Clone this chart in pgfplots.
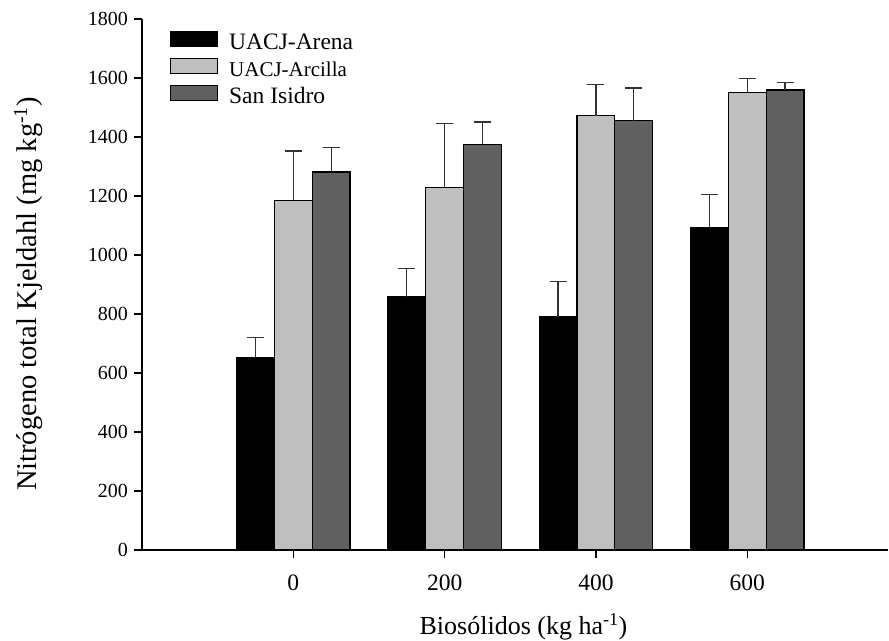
\documentclass[border=0pt]{standalone}
\usepackage{fontspec}
\setmainfont{Liberation Serif}
\usepackage{pgfplots}
\pgfplotsset{compat=1.18}
\definecolor{lightbar}{HTML}{BFBFBF}
\definecolor{darkbar}{HTML}{606060}
\definecolor{errc}{HTML}{333333}
\begin{document}
\begin{tikzpicture}[x=1bp,y=1bp]
\useasboundingbox (0,0) rectangle (889,641);
\begin{axis}[
  at={(142bp,91bp)}, anchor=south west,
  scale only axis, width=746bp, height=531bp,
  xmin=-200, xmax=786, ymin=0, ymax=1800,
  axis lines*=left,
  axis line style={line width=1.4bp, black},
  ybar=0pt, bar width=50,
  xtick={0,200,400,600}, ytick={0,200,...,1800},
  tick align=outside, major tick length=8bp,
  xtick style={line width=1.2bp, black},
  ytick style={line width=1.2bp, black},
  /pgf/number format/assume math mode=true,
  /pgf/number format/1000 sep={},
  yticklabel style={font=\fontsize{20bp}{20bp}\selectfont, inner sep=0pt, anchor=east, xshift=-6bp},
  xticklabel style={font=\fontsize{23.5bp}{23.5bp}\selectfont, inner sep=0pt, anchor=north, yshift=-17bp},
  xlabel={Biosólidos (kg ha\textsuperscript{-1})},
  ylabel={Nitrógeno total Kjeldahl (mg kg\textsuperscript{-1})},
  xlabel style={font=\fontsize{26bp}{26bp}\selectfont, at={(axis description cs:0.5114,-0.160)}, anchor=base},
  ylabel style={font=\fontsize{28.5bp}{28.5bp}\selectfont, at={(axis description cs:-0.1528,0.482)}, anchor=center, rotate=0},
  every axis plot post/.append style={legend image code/.code={\draw[##1, line width=1.2bp] (0bp,2.5bp) rectangle (47bp,17.5bp);}},
  legend style={font=\fontsize{23.5bp}{23.5bp}\selectfont, draw=none, fill=none,
    at={(0.0375,0.9787)}, anchor=north west, inner sep=0pt, outer sep=0pt,
    row sep=0pt, nodes={inner sep=0pt, text height=19bp, text depth=8bp, anchor=base west},
    /tikz/every odd column/.style={column sep=11bp}},
  error bars/error mark=|,
  error bars/error bar style={line width=1.3bp, draw=errc},
  error bars/error mark options={line width=1.3bp, mark size=8.5bp, draw=errc},
]
\addplot[fill=black, draw=black, line width=1.2bp,
  error bars/.cd, y dir=plus, y explicit]
  table[x=x, y=y, y error=e] {
x y e
0 652 69
200 858 96
400 790 121
600 1094 110
};
\addlegendentry{UACJ-Arena}
\addplot[fill=lightbar, draw=black, line width=1.2bp,
  error bars/.cd, y dir=plus, y explicit]
  table[x=x, y=y, y error=e] {
x y e
0 1186 167
200 1229 217
400 1472 105
600 1551 47
};
\addlegendentry{\fontsize{21bp}{21bp}\selectfont UACJ-Arcilla}
\addplot[fill=darkbar, draw=black, line width=1.2bp,
  error bars/.cd, y dir=plus, y explicit]
  table[x=x, y=y, y error=e] {
x y e
0 1281 83
200 1375 76
400 1455 111
600 1559 26
};
\addlegendentry{San Isidro}
\end{axis}
\end{tikzpicture}
\end{document}
